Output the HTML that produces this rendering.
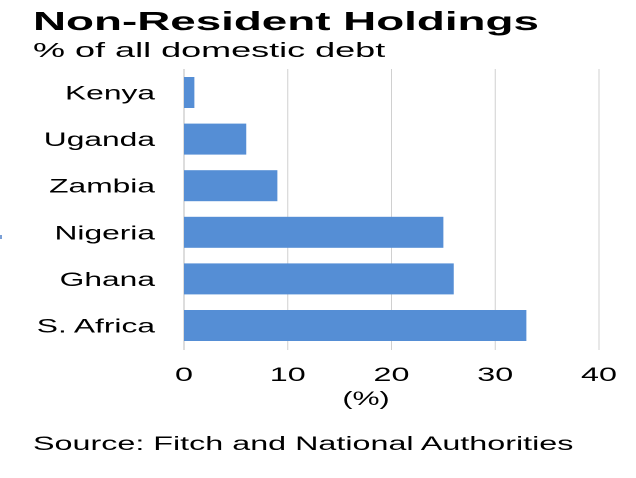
<!DOCTYPE html>
<html><head><meta charset="utf-8">
<style>
html,body{margin:0;padding:0;background:#fff;}
svg{display:block;font-family:"Liberation Sans",Arial,sans-serif;}
</style></head>
<body>
<svg id="chart" width="636" height="478" viewBox="0 0 636 478">
<text id="title" x="33" y="30" font-size="26" font-weight="bold" fill="#000">Non-Resident Holdings</text>
<text id="subtitle" x="33" y="57" font-size="20" fill="#000">% of all domestic debt</text>
<rect x="0" y="235" width="2" height="4" fill="#7a9fd6"/>
<g id="grid"></g>
<g id="bars"></g>
<g id="ylabels"></g>
<g id="xticks"></g>
<text id="xtitle" x="366" y="405" font-size="19" text-anchor="middle" fill="#000">(%)</text>
<text id="source" x="33" y="450" font-size="19" fill="#000">Source: Fitch and National Authorities</text>
</svg>
<script>
const categories = ["Kenya","Uganda","Zambia","Nigeria","Ghana","S. Africa"];
const values = [1, 6, 9, 25, 26, 33];
const tickValues = [0, 10, 20, 30, 40];
const tickLabels = ["0","10","20","30","40"];

const NS = "http://www.w3.org/2000/svg";
const x0 = 184, x1 = 599, xMax = 40;
const plotTop = 69, plotBottom = 350;
const rowTop = 77, rowPitch = 46.6, barH = 31;
function xScale(v){ return x0 + (v / xMax) * (x1 - x0); }
function yScale(i){ return rowTop + i * rowPitch; }
function stretch(el, f){
  const w = el.getComputedTextLength();
  el.setAttribute('textLength', (w * f).toFixed(1));
  el.setAttribute('lengthAdjust', 'spacingAndGlyphs');
}

const grid = document.getElementById('grid');
tickValues.forEach((t, i) => {
  const l = document.createElementNS(NS, 'line');
  l.setAttribute('x1', xScale(t)); l.setAttribute('x2', xScale(t));
  l.setAttribute('y1', plotTop); l.setAttribute('y2', plotBottom);
  l.setAttribute('stroke', i === 0 ? '#bbbbbb' : '#d0d0d0');
  l.setAttribute('stroke-width', '1');
  
  
  grid.appendChild(l);
  const tx = document.createElementNS(NS, 'text');
  tx.setAttribute('x', xScale(t)); tx.setAttribute('y', 381);
  tx.setAttribute('font-size', '19'); tx.setAttribute('text-anchor', 'middle');
  tx.textContent = tickLabels[i];
  
  
  document.getElementById('xticks').appendChild(tx);
  stretch(tx, 1.7);
});

const bars = document.getElementById('bars');
const yl = document.getElementById('ylabels');
categories.forEach((c, i) => {
  const r = document.createElementNS(NS, 'rect');
  r.setAttribute('x', xScale(0)); r.setAttribute('y', yScale(i));
  r.setAttribute('width', xScale(values[i]) - xScale(0));
  r.setAttribute('height', barH);
  r.setAttribute('fill', '#558ed5');
  
  
  bars.appendChild(r);
  const t = document.createElementNS(NS, 'text');
  t.setAttribute('x', 155); t.setAttribute('y', yScale(i) + barH / 2 + 7);
  t.setAttribute('font-size', '19'); t.setAttribute('text-anchor', 'end');
  t.textContent = c;
  
  
  yl.appendChild(t);
  stretch(t, 1.67);
});
stretch(document.getElementById('title'), 1.76);
stretch(document.getElementById('subtitle'), 1.8);
stretch(document.getElementById('source'), 1.7);
stretch(document.getElementById('xtitle'), 1.6);
</script>
</body></html>
